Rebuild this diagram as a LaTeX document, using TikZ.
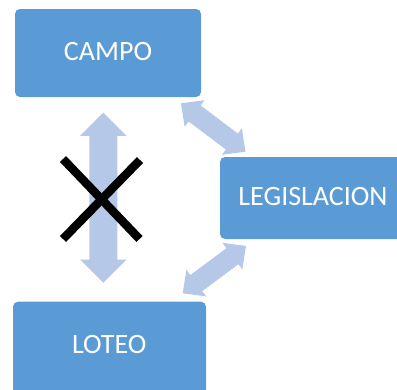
\documentclass[tikz,border=0pt]{standalone}
\usepackage{fontspec}
\setmainfont{Carlito}
\usetikzlibrary{calc}
\definecolor{boxblue}{RGB}{91,155,213}
\definecolor{arrowblue}{RGB}{181,200,232}
\tikzset{
  box/.style={fill=boxblue, rounded corners=5pt, inner sep=0pt},
  boxtext/.style={text=white, inner sep=0pt, anchor=base, font=\fontsize{28}{30}\selectfont},
  arrowfill/.style={fill=arrowblue},
  crossline/.style={draw=black, line width=8.5pt, line cap=butt}
}
% #1 tip A, #2 tip B, #3 head length, #4 head half width, #5 shaft half width
\newcommand\dblarrow[5]{%
  \fill[arrowfill] (#1)
    -- ($(#1)!#3!(#2)!#4!90:(#2)$)
    -- ($(#1)!#3!(#2)!#5!90:(#2)$)
    -- ($(#2)!#3!(#1)!#5!-90:(#1)$)
    -- ($(#2)!#3!(#1)!#4!-90:(#1)$)
    -- (#2)
    -- ($(#2)!#3!(#1)!#4!90:(#1)$)
    -- ($(#2)!#3!(#1)!#5!90:(#1)$)
    -- ($(#1)!#3!(#2)!#5!-90:(#2)$)
    -- ($(#1)!#3!(#2)!#4!-90:(#2)$)
    -- cycle;}
\begin{document}
\begin{tikzpicture}[x=1pt,y=-1pt]
\useasboundingbox (0,0) rectangle (397,389);
\begin{scope}
\clip (0,0) rectangle (397,389);
\node[box, minimum width=186pt, minimum height=88pt] (campo) at (108,53) {};
\node[box, minimum width=186pt, minimum height=82pt] (legis) at (313,198) {};
\node[box, minimum width=193pt, minimum height=100pt] (loteo) at (109.5,351.7) {};
\end{scope}
\node[boxtext] (campo-t) at (108,60.7) {CAMPO};
\node[boxtext] (legis-t) at (313,205) {LEGISLACION};
\node[boxtext] (loteo-t) at (109.2,353.3) {LOTEO};
% arrow tips
\coordinate (v1) at (103.3,112.7);
\coordinate (v2) at (103.3,282.7);
\coordinate (u1) at (181,103.3);
\coordinate (u2) at (245.5,151.7);
\coordinate (l1) at (246,246);
\coordinate (l2) at (182.7,293.3);
\dblarrow{v1}{v2}{23.2pt}{23.3pt}{14pt}
\dblarrow{u1}{u2}{17pt}{16.6pt}{10pt}
\dblarrow{l1}{l2}{17pt}{16.6pt}{10pt}
% cross
\coordinate (x1) at (63,159);
\coordinate (x2) at (139.5,239);
\coordinate (x3) at (63,239);
\coordinate (x4) at (140,160);
\draw[crossline] (x1) -- (x2);
\draw[crossline] (x3) -- (x4);
\end{tikzpicture}
\end{document}
